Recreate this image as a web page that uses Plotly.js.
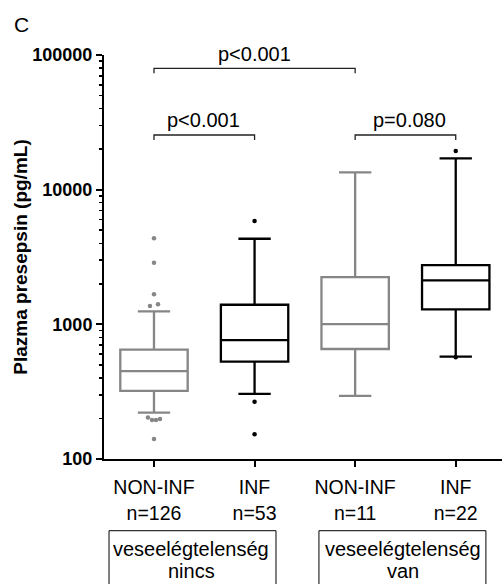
<!DOCTYPE html>
<html>
<head>
<meta charset="utf-8">
<script src="https://cdn.plot.ly/plotly-3.0.1.min.js"></script>
<style>html,body{margin:0;padding:0;background:#fff;}#chart{width:502px;height:584px;}</style>
</head>
<body>
<div id="chart"></div>
<script>
// ---- data ----
var categories = ['NON-INF', 'INF', 'NON-INF', 'INF'];
var nLabels = ['n=126', 'n=53', 'n=11', 'n=22'];
var groupColors = ['#868686', '#000000', '#868686', '#000000'];
var q1 = [321, 528, 656, 1292];
var median = [450, 764, 1005, 2122];
var q3 = [648, 1398, 2245, 2755];
var lowerWhisker = [221, 304, 294, 575];
var upperWhisker = [1249, 4320, 13440, 17080];
var outlierX = [
  [0, 0, 0, -0.04, 0.04, -0.06, -0.02, 0.02, 0.06, 0],
  [1, 1, 1],
  [],
  [3, 3]
];
var outlierY = [
  [4350, 2866, 1670, 1368, 1408, 203, 195, 195, 198, 141],
  [5848, 266, 153],
  [],
  [19350, 570]
];
var yTickVals = [100, 1000, 10000, 100000];
var yTickText = ['100', '1000', '10000', '100000'];
var pLabels = ['p<0.001', 'p<0.001', 'p=0.080'];
var groupBoxLabels = [['veseelégtelenség', 'nincs'], ['veseelégtelenség', 'van']];

var FONT = 'Liberation Sans, Arial, sans-serif';

var minorVals = [];
[100, 1000, 10000].forEach(function (d) {
  for (var k = 2; k <= 9; k++) minorVals.push(d * k);
});

var traces = [];
for (var i = 0; i < categories.length; i++) {
  traces.push({
    type: 'box',
    x: [i],
    q1: [q1[i]], median: [median[i]], q3: [q3[i]],
    lowerfence: [lowerWhisker[i]], upperfence: [upperWhisker[i]],
    width: 0.67,
    whiskerwidth: 0.48,
    boxpoints: false,
    fillcolor: 'rgba(0,0,0,0)',
    line: {color: groupColors[i], width: 2.3},
    hoverinfo: 'skip',
    showlegend: false
  });
  if (outlierY[i].length) {
    traces.push({
      type: 'scatter', mode: 'markers',
      x: outlierX[i], y: outlierY[i],
      marker: {color: groupColors[i], size: 4.5},
      hoverinfo: 'skip', showlegend: false
    });
  }
}

var tickText = categories.map(function (c, i) { return c + '<br>' + nLabels[i]; });

// brackets (paper y)
var brackets = [
  {x0: 0, x1: 2, y: 0.967, label: pLabels[0], ly: 1.003, lx: 1.0},
  {x0: 0, x1: 1, y: 0.802, label: pLabels[1], ly: 0.838, lx: 0.49},
  {x0: 2, x1: 3, y: 0.802, label: pLabels[2], ly: 0.838, lx: 2.54}
];
var shapes = [];
var annotations = [];
brackets.forEach(function (b) {
  var drop = 0.0124;
  shapes.push({type: 'path', xref: 'x', yref: 'paper',
    path: 'M' + b.x0 + ',' + (b.y - drop) + ' L' + b.x0 + ',' + b.y + ' L' + b.x1 + ',' + b.y + ' L' + b.x1 + ',' + (b.y - drop),
    line: {color: '#222', width: 1.3}});
  annotations.push({xref: 'x', yref: 'paper', x: b.lx, y: b.ly, text: b.label, showarrow: false,
    xanchor: 'center', yanchor: 'middle', font: {family: FONT, size: 20, color: '#000'}});
});

// group boxes
var boxDefs = [{x0: -0.447, x1: 1.213, cx: 0.37}, {x0: 1.64, x1: 3.30, cx: 2.48}];
boxDefs.forEach(function (b, j) {
  shapes.push({type: 'rect', xref: 'x', yref: 'paper', x0: b.x0, x1: b.x1, y0: -0.1775, y1: -0.36,
    line: {color: '#000', width: 1}});
  annotations.push({xref: 'x', yref: 'paper', x: b.cx, y: -0.2228, text: groupBoxLabels[j][0], showarrow: false,
    xanchor: 'center', yanchor: 'middle', font: {family: FONT, size: 20, color: '#000'}});
  annotations.push({xref: 'x', yref: 'paper', x: b.cx, y: -0.2772, text: groupBoxLabels[j][1], showarrow: false,
    xanchor: 'center', yanchor: 'middle', font: {family: FONT, size: 20, color: '#000'}});
});

annotations.push({xref: 'paper', yref: 'paper', x: -0.2085, y: 1.0767, text: 'C', showarrow: false,
  xanchor: 'center', yanchor: 'middle', font: {family: FONT, size: 21, color: '#000'}});

var layout = {
  width: 502, height: 584,
  margin: {l: 104, r: 0, t: 55, b: 125, pad: 0},
  paper_bgcolor: '#fff', plot_bgcolor: '#fff',
  showlegend: false,
  xaxis: {
    range: [-0.497, 3.46],
    tickvals: [0, 1, 2, 3],
    ticktext: tickText,
    ticks: 'outside', ticklen: 6, tickwidth: 2, tickcolor: '#000',
    ticklabelstandoff: 4,
    showline: true, linewidth: 2, linecolor: '#000',
    showgrid: false, zeroline: false,
    tickfont: {family: FONT, size: 19.5, color: '#000'},
    fixedrange: true
  },
  yaxis: {
    type: 'log',
    range: [2, 5],
    tickvals: yTickVals,
    ticktext: yTickText,
    ticks: 'outside', ticklen: 6, tickwidth: 2, tickcolor: '#000',
    minor: {tickvals: minorVals, ticks: 'outside', ticklen: 3.5, tickwidth: 1.5, tickcolor: '#000', showgrid: false},
    showline: true, linewidth: 2, linecolor: '#000',
    showgrid: false, zeroline: false,
    tickfont: {family: FONT, size: 18, color: '#000', weight: 'bold'},
    title: {text: 'Plazma presepsin (pg/mL)', font: {family: FONT, size: 19, color: '#000', weight: 'bold'}, standoff: 0},
    fixedrange: true
  },
  shapes: shapes,
  annotations: annotations
};

Plotly.newPlot('chart', traces, layout, {displayModeBar: false, staticPlot: true});
</script>
</body>
</html>
